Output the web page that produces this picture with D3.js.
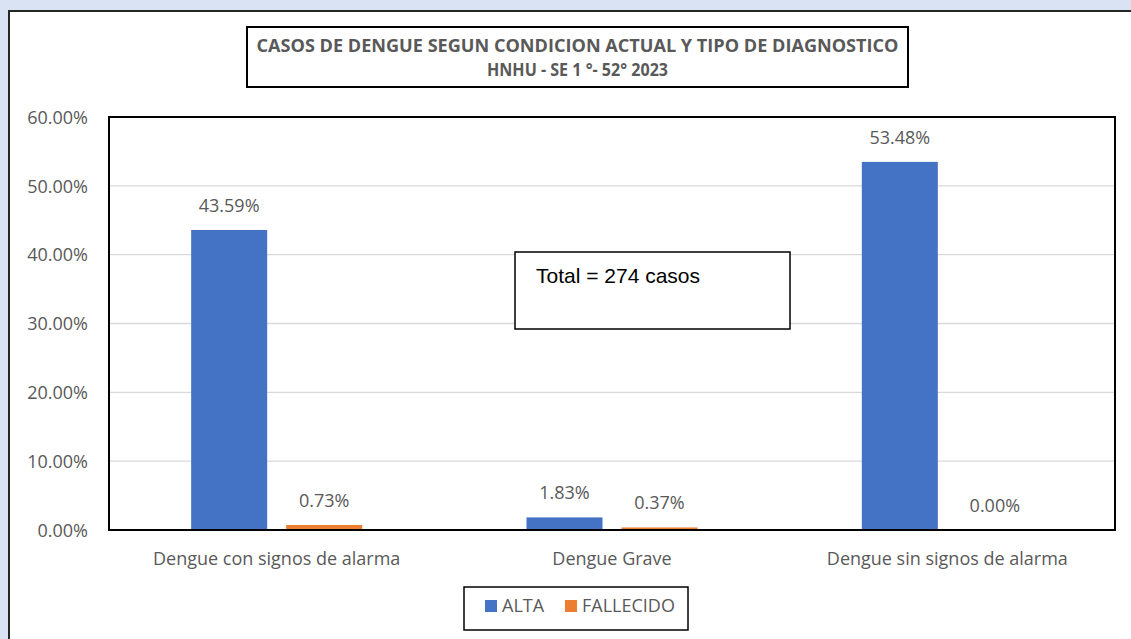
<!DOCTYPE html>
<html>
<head>
<meta charset="utf-8">
<script src="https://cdn.jsdelivr.net/npm/d3@7"></script>
<style>
  html, body { margin: 0; padding: 0; background: #dae3f3; }
  svg { display: block; }
  text { font-family: "Open Sans", "Noto Sans", sans-serif; }
</style>
</head>
<body>
<div id="chart"></div>
<script>
const categories = ["Dengue con signos de alarma", "Dengue Grave", "Dengue sin signos de alarma"];
const seriesNames = ["ALTA", "FALLECIDO"];
const alta = [43.59, 1.83, 53.48];
const fallecido = [0.73, 0.37, 0.00];
const yTicks = [0, 10, 20, 30, 40, 50, 60];
const colors = { ALTA: "#4472c4", FALLECIDO: "#ed7d31" };
const titleLines = ["CASOS DE DENGUE SEGUN CONDICION ACTUAL Y TIPO DE DIAGNOSTICO", "HNHU - SE 1 °- 52° 2023"];
const note = "Total = 274 casos";

const W = 1131, H = 639;
const plot = { left: 109, top: 117, right: 1115, bottom: 530 };
const txt = "#595959";
const fs = "18px";

const svg = d3.select("#chart").append("svg").attr("width", W).attr("height", H);

// outer chart frame
svg.append("rect").attr("x", 9).attr("y", 11).attr("width", W + 20).attr("height", H + 20)
  .attr("fill", "#fff").attr("stroke", "#262626").attr("stroke-width", 2);

const y = d3.scaleLinear().domain([0, 60]).range([plot.bottom, plot.top]);
const x0 = d3.scaleBand().domain(categories).range([plot.left, plot.right]);
const gap = (x0.bandwidth() - 171) / 2;
const x1 = d3.scaleBand().domain(seriesNames).range([gap, x0.bandwidth() - gap]).paddingInner(0.2);

// gridlines
svg.append("g").selectAll("line").data(yTicks.slice(1, -1)).join("line")
  .attr("x1", plot.left).attr("x2", plot.right)
  .attr("y1", d => y(d)).attr("y2", d => y(d))
  .attr("stroke", "#d9d9d9").attr("stroke-width", 1.3);

// y axis labels
const yAxis = svg.append("g").attr("transform", `translate(${plot.left - 21},0)`)
  .call(d3.axisLeft(y).tickValues(yTicks).tickSize(0).tickPadding(0).tickFormat(d => d3.format(".2f")(d) + "%"));
yAxis.select(".domain").remove();
yAxis.selectAll("text").attr("fill", txt).style("font-size", fs).attr("dy", "0.35em");

// bars
const rows = categories.map((c, i) => ({ cat: c, vals: [{ s: "ALTA", v: alta[i] }, { s: "FALLECIDO", v: fallecido[i] }] }));
const groups = svg.append("g").selectAll("g").data(rows).join("g")
  .attr("transform", d => `translate(${x0(d.cat)},0)`);
groups.selectAll("rect").data(d => d.vals).join("rect")
  .attr("x", d => x1(d.s)).attr("width", x1.bandwidth())
  .attr("y", d => y(d.v)).attr("height", d => y(0) - y(d.v))
  .attr("fill", d => colors[d.s]);
groups.selectAll("text").data(d => d.vals).join("text")
  .attr("x", d => x1(d.s) + x1.bandwidth() / 2)
  .attr("y", d => y(d.v) - 18)
  .attr("text-anchor", "middle").attr("fill", txt).style("font-size", fs)
  .text(d => d3.format(".2f")(d.v) + "%");

// plot border
svg.append("rect").attr("x", plot.left).attr("y", plot.top)
  .attr("width", plot.right - plot.left).attr("height", plot.bottom - plot.top)
  .attr("fill", "none").attr("stroke", "#000").attr("stroke-width", 2);

// category labels
const xAxis = svg.append("g").attr("transform", `translate(0,${plot.bottom})`)
  .call(d3.axisBottom(x0).tickSize(0).tickPadding(22));
xAxis.select(".domain").remove();
xAxis.selectAll("text").attr("fill", txt).style("font-size", fs);

// title box
svg.append("rect").attr("x", 247).attr("y", 27).attr("width", 661).attr("height", 60)
  .attr("fill", "#fff").attr("stroke", "#000").attr("stroke-width", 2);
const titleW = [642, 181];
svg.append("g").selectAll("text").data(titleLines).join("text")
  .attr("x", 577.5).attr("y", (d, i) => 52 + i * 24)
  .attr("text-anchor", "middle").attr("fill", txt)
  .style("font-size", "17px").style("font-weight", "bold")
  .attr("textLength", (d, i) => titleW[i]).attr("lengthAdjust", "spacingAndGlyphs")
  .text(d => d);

// total box
svg.append("rect").attr("x", 515).attr("y", 252).attr("width", 275).attr("height", 77)
  .attr("fill", "#fff").attr("stroke", "#000").attr("stroke-width", 1.5);
svg.append("text").attr("x", 536).attr("y", 283)
  .style("font-family", "'Liberation Sans', Arial, sans-serif").style("font-size", "21px")
  .attr("fill", "#000").text(note);

// legend
svg.append("rect").attr("x", 464).attr("y", 587).attr("width", 224).attr("height", 43)
  .attr("fill", "#fff").attr("stroke", "#000").attr("stroke-width", 1.5);
const legX = [485, 565];
const leg = svg.append("g").selectAll("g").data(seriesNames).join("g")
  .attr("transform", (d, i) => `translate(${legX[i]},600)`);
leg.append("rect").attr("width", 12).attr("height", 12).attr("fill", d => colors[d]);
leg.append("text").attr("x", 17).attr("y", 6).attr("dy", "0.35em")
  .attr("fill", txt).style("font-size", fs).text(d => d);
</script>
</body>
</html>
